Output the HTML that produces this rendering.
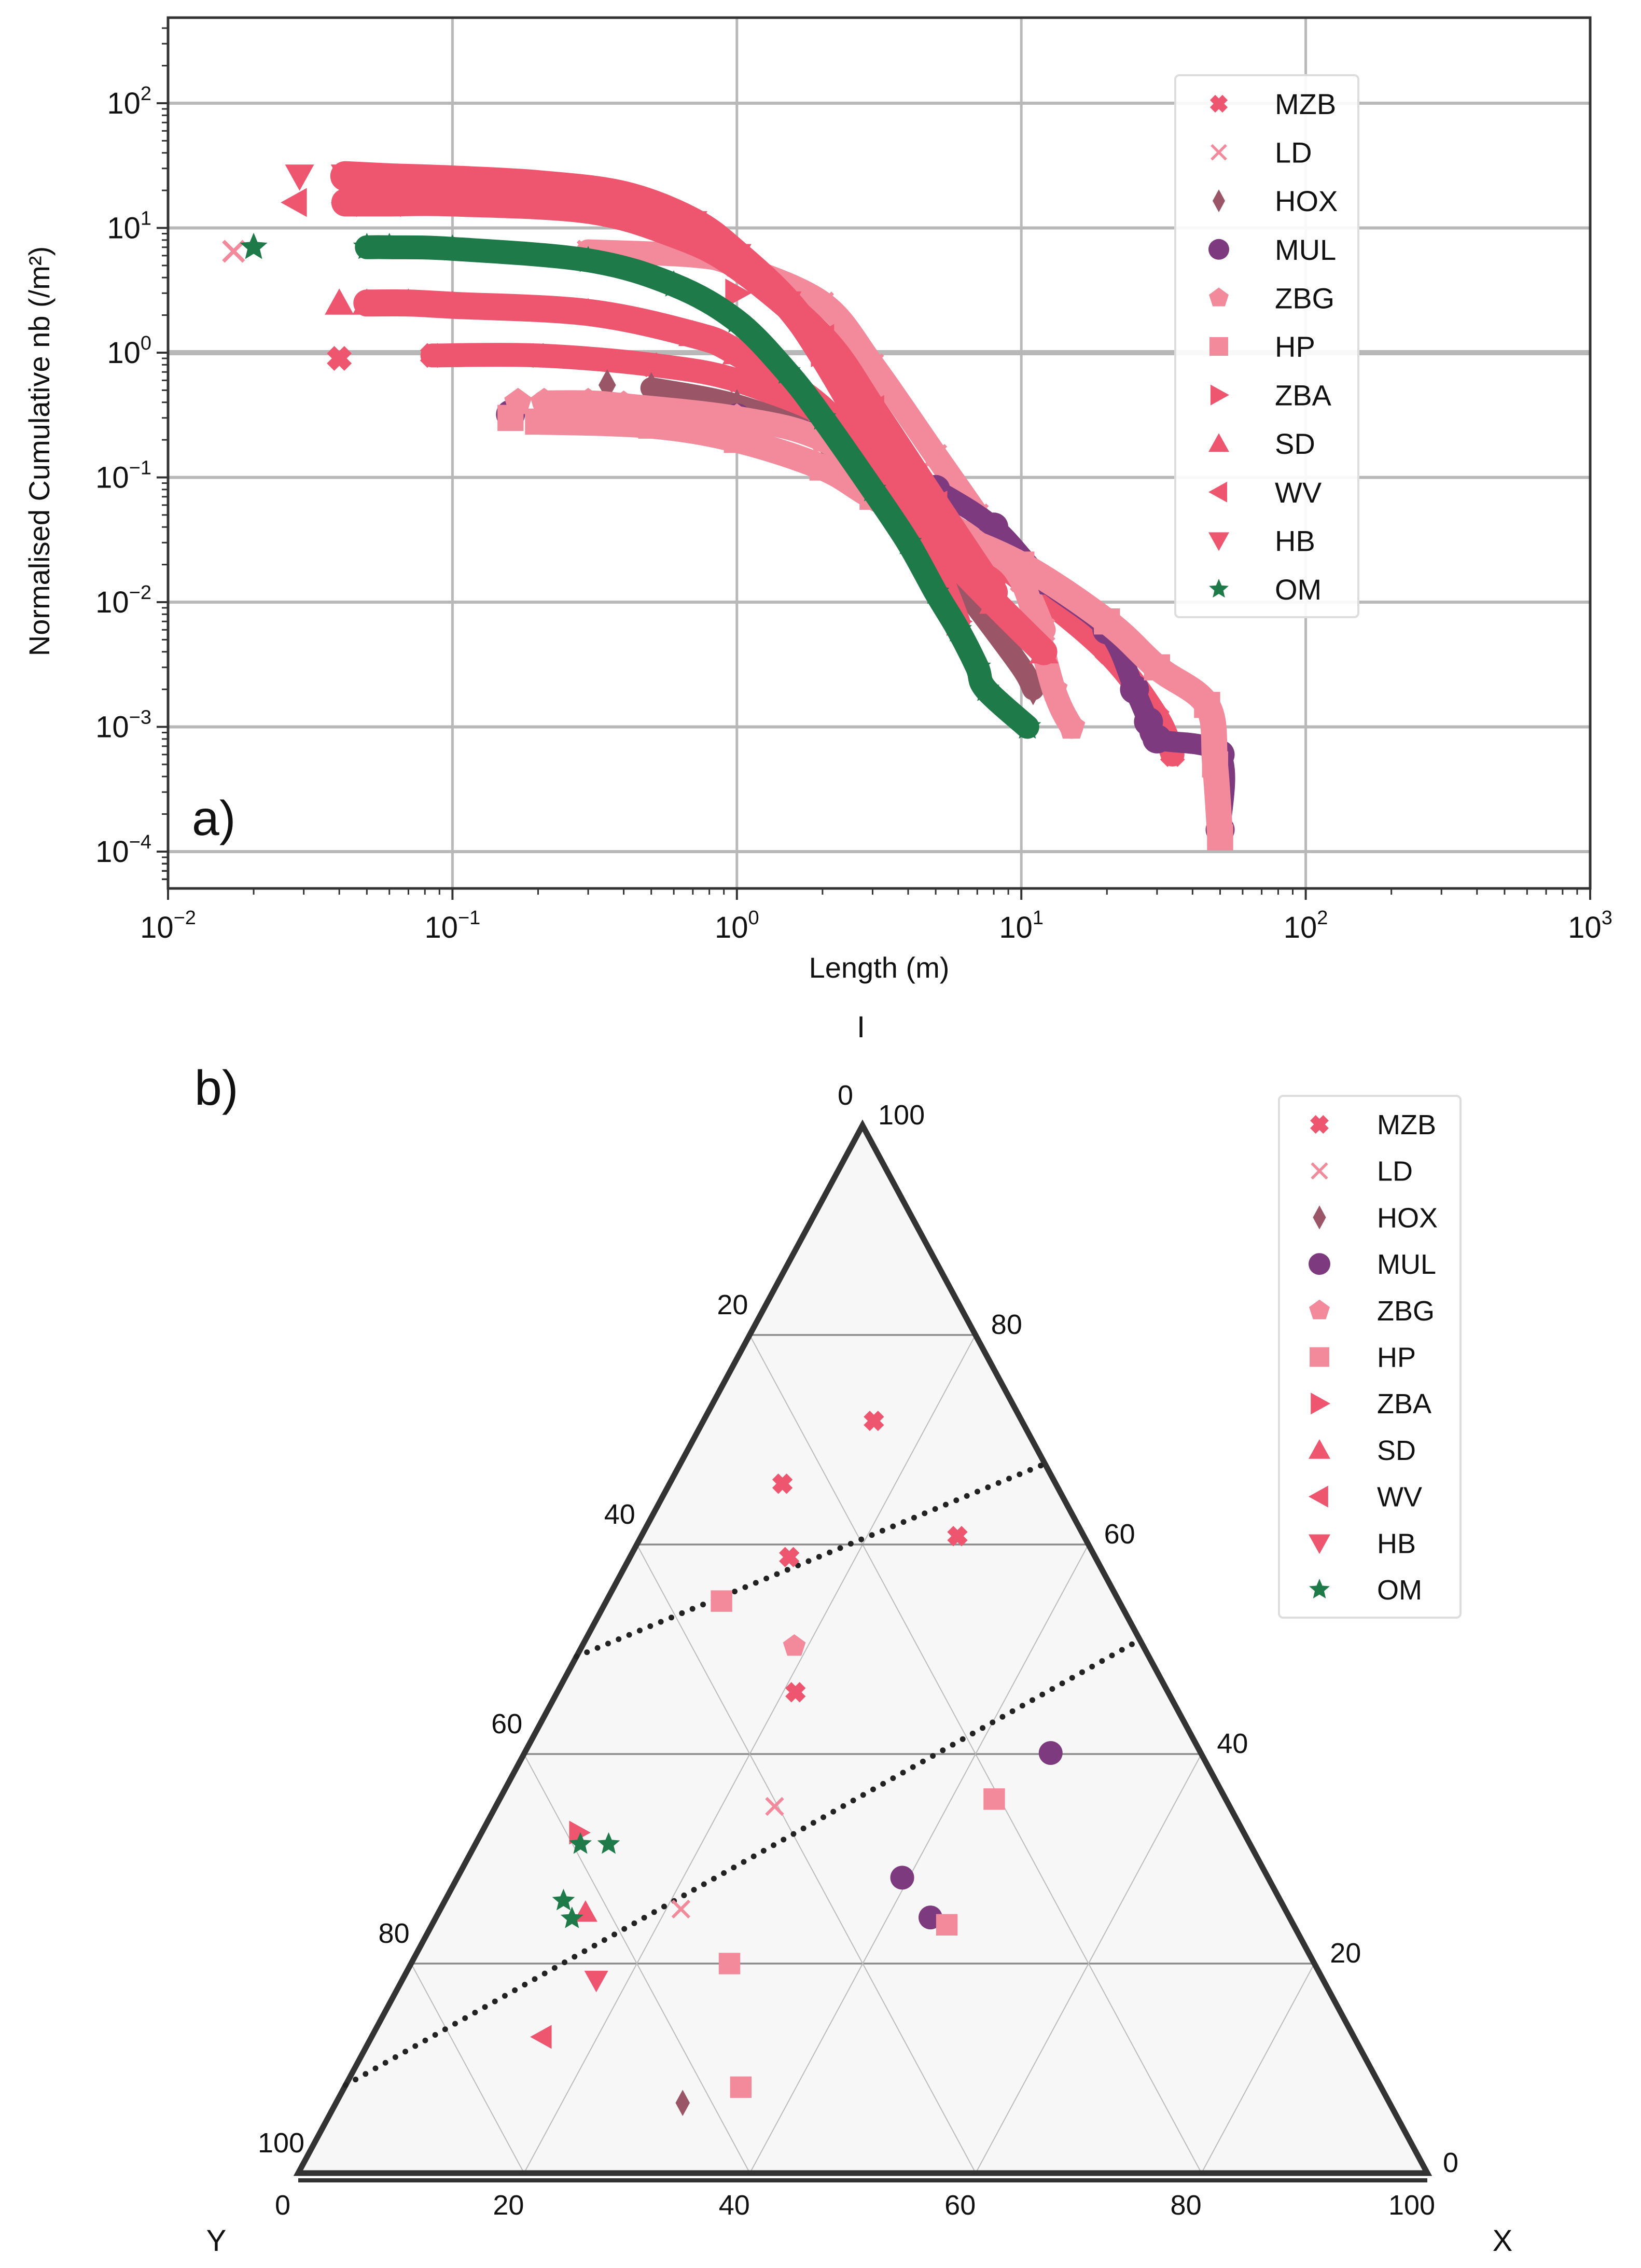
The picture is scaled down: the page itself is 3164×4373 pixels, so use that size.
<!DOCTYPE html>
<html><head><meta charset="utf-8"><style>
html,body{margin:0;padding:0;background:#fff}
svg{display:block}
text{font-family:"Liberation Sans",sans-serif;fill:#111}
</style></head><body>
<svg id="root" xmlns="http://www.w3.org/2000/svg" width="3164" height="4373" viewBox="0 0 3164 4373">
<rect width="3164" height="4373" fill="#fff"/>
<g id="pa"></g>
<g id="pb"></g>
</svg>
<script>
// ---------- Panel a data ----------
const seriesNames = ["MZB","LD","HOX","MUL","ZBG","HP","ZBA","SD","WV","HB","OM"];
const seriesColors = ["#ee5670","#f38a9c","#9a5566","#7e3a7e","#f28a9c","#f28a9c","#ee5670","#ee5670","#ee5670","#ee5670","#1e7a48"];
const seriesMarkers = ["X","x","d","o","p","s",">","^","<","v","*"];
const lenMZB = [0.04,0.085,0.2,0.5,1,2,3,5,10,20,30,34];
const valMZB = [0.9,0.95,0.95,0.8,0.6,0.3,0.12,0.05,0.015,0.004,0.0012,0.0006];
const lenLD = [0.017,0.3,0.7,1,2,3,5,7,10,12];
const valLD = [6.5,6.5,6,5,2.5,0.8,0.15,0.05,0.015,0.006];
const lenHOX = [0.35,0.5,1,2,3,5,7,10,11];
const valHOX = [0.55,0.52,0.38,0.2,0.08,0.025,0.009,0.003,0.002];
const lenMUL = [0.16,1,2,3,5,8,12,20,25,28,30,50,50];
const valMUL = [0.32,0.3,0.22,0.15,0.08,0.04,0.015,0.006,0.002,0.0011,0.0008,0.0006,0.00015];
const lenZBG = [0.17,0.21,0.3,0.4,1,2,4,7,10,13,15];
const valZBG = [0.4,0.4,0.4,0.38,0.3,0.2,0.07,0.03,0.015,0.002,0.001];
const lenHP = [0.16,0.2,0.5,1,2,3,5,10,20,30,45,48,50];
const valHP = [0.3,0.28,0.26,0.2,0.12,0.07,0.04,0.02,0.007,0.003,0.0015,0.0005,0.00013];
const lenZBA = [1,2,3,5,6];
const valZBA = [3,1,0.3,0.02,0.007];
const lenSD = [0.04,0.05,0.07,0.1,0.3,0.7,1,2,3,5,8,12];
const valSD = [2.5,2.5,2.5,2.4,2.1,1.4,1,0.35,0.1,0.03,0.01,0.004];
const lenWV = [0.028,0.042,0.06,0.1,0.3,0.6,1,2,3,5,8];
const valWV = [16,16,16,16,14,9,5,1.3,0.35,0.06,0.012];
const lenHB = [0.029,0.042,0.06,0.1,0.2,0.4,0.7,1,1.5,2,3,4,5];
const valHB = [26,26,25,24,22,18,11,6,2.5,1,0.2,0.05,0.02];
const lenOM = [0.02,0.05,0.06,0.1,0.3,0.6,1,1.5,2,3,4,5,6,7,7.5,10.5];
const valOM = [7,7,7,6.8,5.5,3.5,1.8,0.7,0.3,0.08,0.03,0.012,0.006,0.003,0.002,0.001];
const xTickExp = [-2,-1,0,1,2,3];
const yTickExp = [-4,-3,-2,-1,0,1,2];

// ---------- Panel b data ----------
const ternNames = ["MZB","MZB","MZB","MZB","MZB","LD","LD","HOX","MUL","MUL","MUL","ZBG","HP","HP","HP","HP","HP","ZBA","SD","WV","HB","OM","OM","OM","OM"];
const ternI = [71.8,65.8,60.8,58.8,45.9,35.0,25.2,6.7,40.1,28.2,24.4,50.3,54.6,35.7,23.7,20.0,8.2,32.5,24.9,13.0,18.4,31.4,31.4,26.0,24.3];
const ternX = [15.1,10.0,28.0,14.1,21.1,24.7,21.3,30.7,46.6,39.4,43.8,18.8,10.2,43.8,45.6,28.2,35.1,8.6,13.0,15.1,17.2,9.3,11.8,10.5,12.1];
const ternTicks = [0,20,40,60,80,100];
const dotLineI = [[49.3,67.7],[8.4,50.9]];
const dotLineX = [[0,32.3],[0,49.1]];

const NS="http://www.w3.org/2000/svg";
function mk(tag,attrs,parent){const e=document.createElementNS(NS,tag);for(const k in attrs)e.setAttribute(k,attrs[k]);parent.appendChild(e);return e;}

function marker(parent,type,x,y,s,color){
  const g=mk('g',{transform:`translate(${x},${y})`},parent);
  const h=s/2;
  if(type==='o') mk('circle',{r:h,fill:color},g);
  else if(type==='s') mk('rect',{x:-h*0.9,y:-h*0.9,width:h*1.8,height:h*1.8,fill:color},g);
  else if(type==='d') mk('polygon',{points:`0,${-h*1.1} ${h*0.6},0 0,${h*1.1} ${-h*0.6},0`,fill:color},g);
  else if(type==='^') mk('polygon',{points:`0,${-h} ${h},${h*0.8} ${-h},${h*0.8}`,fill:color},g);
  else if(type==='v') mk('polygon',{points:`0,${h} ${h},${-h*0.8} ${-h},${-h*0.8}`,fill:color},g);
  else if(type==='>') mk('polygon',{points:`${h},0 ${-h*0.8},${h} ${-h*0.8},${-h}`,fill:color},g);
  else if(type==='<') mk('polygon',{points:`${-h},0 ${h*0.8},${h} ${h*0.8},${-h}`,fill:color},g);
  else if(type==='x') mk('path',{d:`M${-h*0.7},${-h*0.7}L${h*0.7},${h*0.7}M${-h*0.7},${h*0.7}L${h*0.7},${-h*0.7}`,stroke:color,'stroke-width':s*0.13,fill:'none'},g);
  else if(type==='X') mk('path',{d:`M${-h*0.6},${-h*0.6}L${h*0.6},${h*0.6}M${-h*0.6},${h*0.6}L${h*0.6},${-h*0.6}`,stroke:color,'stroke-width':s*0.36,fill:'none'},g);
  else if(type==='p'){let p=[];for(let i=0;i<5;i++){const a=-Math.PI/2+i*2*Math.PI/5;p.push((h*Math.cos(a)).toFixed(1)+','+(h*Math.sin(a)).toFixed(1));}mk('polygon',{points:p.join(' '),fill:color},g);}
  else if(type==='*'){let p=[];for(let i=0;i<10;i++){const r=i%2?h*0.45:h;const a=-Math.PI/2+i*Math.PI/5;p.push((r*Math.cos(a)).toFixed(1)+','+(r*Math.sin(a)).toFixed(1));}mk('polygon',{points:p.join(' '),fill:color},g);}
  return g;
}
function smoothPath(pts){
  if(pts.length<2)return '';
  let d='M'+pts[0][0].toFixed(1)+','+pts[0][1].toFixed(1);
  for(let i=0;i<pts.length-1;i++){
    const p0=pts[i-1]||pts[i],p1=pts[i],p2=pts[i+1],p3=pts[i+2]||p2;
    const c1=[p1[0]+(p2[0]-p0[0])/6,p1[1]+(p2[1]-p0[1])/6];
    const c2=[p2[0]-(p3[0]-p1[0])/6,p2[1]-(p3[1]-p1[1])/6];
    d+=`C${c1[0].toFixed(1)},${c1[1].toFixed(1)} ${c2[0].toFixed(1)},${c2[1].toFixed(1)} ${p2[0].toFixed(1)},${p2[1].toFixed(1)}`;
  }
  return d;
}

// ================= PANEL A =================
const pa=document.getElementById('pa');
const AL=324,AR=3066,AT=34,AB=1713;
const xDec=(AR-AL)/5, yTop2=199, yDec=240.5;
function ax(v){return AL+(Math.log10(v)+2)*xDec;}
function ay(v){return yTop2+(2-Math.log10(v))*yDec;}
for(const e of xTickExp){const l=mk('line',{x1:ax(10**e),x2:ax(10**e),y1:AT,y2:AB,stroke:'#b8b8b8','stroke-width':5},pa);

}
for(const e of yTickExp){const l=mk('line',{x1:AL,x2:AR,y1:ay(10**e),y2:ay(10**e),stroke:'#b8b8b8','stroke-width':e===0?10:6},pa);

}
const lens=[lenMZB,lenLD,lenHOX,lenMUL,lenZBG,lenHP,lenZBA,lenSD,lenWV,lenHB,lenOM];
const vals=[valMZB,valLD,valHOX,valMUL,valZBG,valHP,valZBA,valSD,valWV,valHB,valOM];
const bandW=[46,46,42,40,46,50,46,52,54,58,46];
for(let i=0;i<seriesNames.length;i++){
  const g=mk('g',{},pa);
  
  
  const L=lens[i],V=vals[i];
  const start=L.length>4?1:0;
  const pts=[];
  for(let k=start;k<L.length;k++)pts.push([ax(L[k]),ay(V[k])]);
  const p=mk('path',{d:smoothPath(pts),fill:'none',stroke:seriesColors[i],'stroke-width':bandW[i],'stroke-linejoin':'round','stroke-linecap':'round'},g);
  
  
  for(let k=0;k<L.length;k++){const m=marker(g,seriesMarkers[i],ax(L[k]),ay(V[k]),56,seriesColors[i]);
    
    }
}
const fr=mk('rect',{x:AL,y:AT,width:AR-AL,height:AB-AT,fill:'none',stroke:'#333','stroke-width':5},pa);


for(const e of xTickExp){
  mk('line',{x1:ax(10**e),x2:ax(10**e),y1:AB,y2:AB+22,stroke:'#333','stroke-width':4},pa);
  if(e<3)for(let m=2;m<10;m++)mk('line',{x1:ax(m*10**e),x2:ax(m*10**e),y1:AB,y2:AB+12,stroke:'#333','stroke-width':3},pa);
  const t=mk('text',{x:ax(10**e),y:AB+95,'text-anchor':'middle','font-size':58},pa);
  t.innerHTML=`10<tspan dy="-26" font-size="38">${e<0?'\u2212'+(-e):e}</tspan>`;
  
  
}
for(const e of yTickExp){
  mk('line',{x1:AL-22,x2:AL,y1:ay(10**e),y2:ay(10**e),stroke:'#333','stroke-width':4},pa);
  for(let m=2;m<10;m++){const yy=ay(m*10**e);if(yy>AT&&yy<AB)mk('line',{x1:AL-12,x2:AL,y1:yy,y2:yy,stroke:'#333','stroke-width':3},pa);}
  for(let m=5;m<10;m++){const yy=ay(m*1e-5);if(yy<AB)mk('line',{x1:AL-12,x2:AL,y1:yy,y2:yy,stroke:'#333','stroke-width':3},pa);}
  const t=mk('text',{x:AL-32,y:ay(10**e)+20,'text-anchor':'end','font-size':58},pa);
  t.innerHTML=`10<tspan dy="-26" font-size="38">${e<0?'\u2212'+(-e):e}</tspan>`;
  
  
}
</script>
<script>
(function(){
const pa=document.getElementById('pa');
const t1=mk('text',{x:1695,y:1885,'text-anchor':'middle','font-size':56},pa);t1.textContent='Length (m)';


const t2=mk('text',{x:0,y:0,'text-anchor':'middle','font-size':56,transform:'translate(95,870) rotate(-90)'},pa);t2.textContent='Normalised Cumulative nb (/m\u00b2)';


const t3=mk('text',{x:370,y:1610,'font-size':95},pa);t3.textContent='a)';


const lg=mk('g',{},pa);


mk('rect',{x:2266,y:145,width:353,height:1045,rx:8,fill:'#fff','fill-opacity':0.9,stroke:'#ddd','stroke-width':4},lg);
for(let i=0;i<seriesNames.length;i++){
  const y=200+i*93.6;
  const e=mk('g',{},lg);
  
  
  marker(e,seriesMarkers[i],2350,y,40,seriesColors[i]);
  const t=mk('text',{x:2458,y:y+20,'font-size':56},e);t.textContent=seriesNames[i];
}

const pb=document.getElementById('pb');
const A=[1663,2170],BL=[575,4190],BR=[2752,4190];
function tp(I,X){const Y=100-I-X;return [(I*A[0]+X*BR[0]+Y*BL[0])/100,(I*A[1]+X*BR[1]+Y*BL[1])/100];}
const tri=mk('polygon',{points:`${A} ${BL} ${BR}`,fill:'#f7f7f7',stroke:'none'},pb);


for(const v of [20,40,60,80]){
  let p1=tp(v,0),p2=tp(v,100-v);
  const h=mk('line',{x1:p1[0],y1:p1[1],x2:p2[0],y2:p2[1],stroke:'#8a8a8a','stroke-width':3.5},pb);
  
  
  p1=tp(0,v);p2=tp(100-v,v);
  mk('line',{x1:p1[0],y1:p1[1],x2:p2[0],y2:p2[1],stroke:'#bbb','stroke-width':2},pb);
  p1=tp(0,100-v);p2=tp(100-v,0);
  mk('line',{x1:p1[0],y1:p1[1],x2:p2[0],y2:p2[1],stroke:'#bbb','stroke-width':2},pb);
}
const edge=mk('polygon',{points:`${A} ${BL} ${BR}`,fill:'none',stroke:'#333','stroke-width':11,'stroke-linejoin':'miter'},pb);


mk('line',{x1:BL[0],y1:BL[1]+14,x2:BR[0],y2:BR[1]+14,stroke:'#333','stroke-width':8},pb);
for(let k=0;k<dotLineI.length;k++){
  const p1=tp(dotLineI[k][0],dotLineX[k][0]),p2=tp(dotLineI[k][1],dotLineX[k][1]);
  const l=mk('line',{x1:p1[0],y1:p1[1],x2:p2[0],y2:p2[1],stroke:'#222','stroke-width':11,'stroke-dasharray':'0 22','stroke-linecap':'round'},pb);
  
  
}
for(const v of ternTicks){
  let p=tp(100-v,0);
  let t=mk('text',{x:p[0]-33,y:p[1]-40,'text-anchor':'middle','font-size':54},pb);t.textContent=v;
  
  
  p=tp(v,100-v);
  t=mk('text',{x:p[0]+30,y:p[1]-2,'font-size':54},pb);t.textContent=v;
  
  
  p=tp(0,v);
  t=mk('text',{x:p[0]-30,y:p[1]+80,'text-anchor':'middle','font-size':54},pb);t.textContent=v;
  
  
}
const lblI=mk('text',{x:1660,y:2000,'text-anchor':'middle','font-size':58},pb);lblI.textContent='I';


const lblY=mk('text',{x:417,y:4340,'text-anchor':'middle','font-size':58},pb);lblY.textContent='Y';


const lblX=mk('text',{x:2897,y:4340,'text-anchor':'middle','font-size':58},pb);lblX.textContent='X';


const lb=mk('text',{x:375,y:2130,'font-size':95},pb);lb.textContent='b)';


for(let i=0;i<ternNames.length;i++){
  const si=seriesNames.indexOf(ternNames[i]);
  const p=tp(ternI[i],ternX[i]);
  const m=marker(pb,seriesMarkers[si],p[0],p[1],46,seriesColors[si]);
  
  
}
const lg2=mk('g',{},pb);


mk('rect',{x:2466,y:2113,width:350,height:1006,rx:8,fill:'#fff',stroke:'#ddd','stroke-width':4},lg2);
for(let i=0;i<seriesNames.length;i++){
  const y=2168+i*89.7;
  const e=mk('g',{},lg2);
  
  
  marker(e,seriesMarkers[i],2544,y,42,seriesColors[i]);
  const t=mk('text',{x:2655,y:y+19,'font-size':54},e);t.textContent=seriesNames[i];
}
})();
</script>
</body></html>
